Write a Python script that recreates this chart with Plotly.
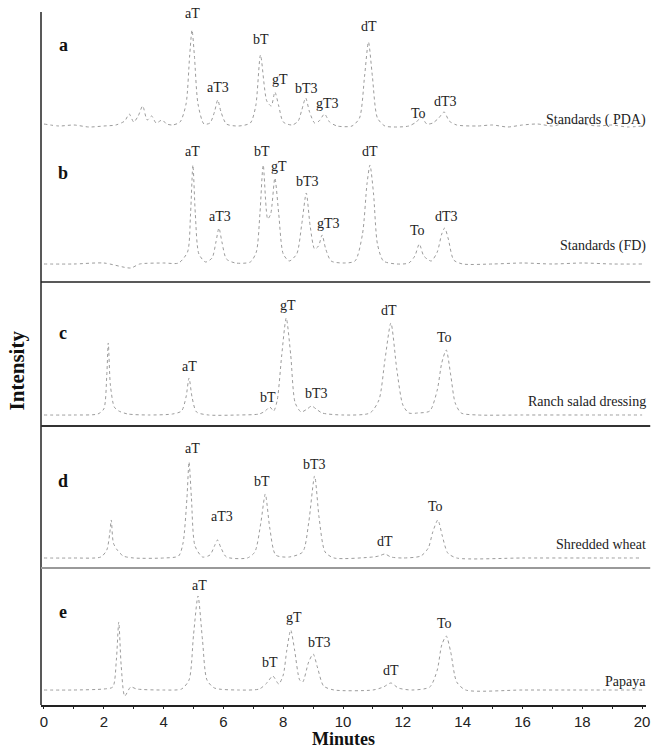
import plotly.graph_objects as go

# ---------------- data ----------------
# retention time (minutes) and detector intensity (arbitrary units, baseline = 0)
a_time = [0.0, 0.5, 1.0, 1.5, 2.0, 2.4, 2.7, 2.85, 3.0, 3.15, 3.3, 3.45, 3.6, 3.75, 3.95, 4.1, 4.3,
          4.55, 4.75, 4.87, 4.95, 5.03, 5.15, 5.35, 5.55, 5.7, 5.81, 5.92, 6.1, 6.5, 6.9, 7.08, 7.24,
          7.45, 7.6, 7.72, 7.85, 8.0, 8.3, 8.5, 8.62, 8.75, 8.88, 9.05, 9.2, 9.38, 9.55, 9.8, 10.3,
          10.55, 10.72, 10.85, 10.98, 11.15, 11.4, 11.8, 12.2, 12.45, 12.62, 12.8, 13.0, 13.2, 13.38,
          13.55, 13.8, 14.5, 15.0, 15.5, 16.0, 16.5, 17.0, 17.5, 18.0, 18.5, 19.0, 19.5, 20.0]
a_int = [2, 0, 1, -1, 0, 1, 5, 12, 4, 10, 20, 6, 10, 3, 6, 2, 1,
         4, 22, 70, 96, 70, 22, 2, 3, 14, 26, 14, 2, 0, 3, 20, 71,
         25, 20, 34, 20, 4, 1, 5, 16, 28, 14, 3, 5, 12, 4, 0, 0,
         8, 50, 84, 50, 8, 0, -1, 0, 4, 9, 2, 3, 8, 14,
         5, 1, 0, 1, -1, 1, 2, 0, 3, 2, 0, 1, -1, 0]

b_time = [0.0, 1.0, 2.0, 2.9, 3.2, 4.0, 4.5, 4.8, 4.9, 4.98, 5.06, 5.18, 5.4, 5.62, 5.75, 5.85, 5.95,
          6.1, 6.4, 6.9, 7.1, 7.22, 7.33, 7.48, 7.58, 7.72, 7.85, 8.0, 8.2, 8.45, 8.62, 8.77, 8.9,
          9.05, 9.18, 9.3, 9.42, 9.6, 10.0, 10.4, 10.65, 10.8, 10.9, 11.02, 11.15, 11.35, 11.8, 12.2,
          12.4, 12.55, 12.7, 12.95, 13.15, 13.3, 13.4, 13.52, 13.7, 14.0, 15.0, 16.0, 17.0, 18.0,
          19.0, 20.0]
b_int = [0, 0, 1, -4, 0, 1, 1, 12, 50, 99, 50, 10, 2, 6, 22, 36, 22,
         5, 1, 2, 12, 50, 99, 45, 50, 86, 50, 10, 3, 10, 40, 71, 38,
         15, 18, 29, 15, 3, 1, 3, 30, 80, 99, 70, 20, 3, 0, 1,
         8, 20, 8, 3, 12, 30, 36, 25, 4, 0, 0, 1, 0, 1,
         0, 0]

c_time = [0.0, 1.0, 1.8, 2.0, 2.1, 2.15, 2.22, 2.35, 2.5, 2.8, 3.5, 4.3, 4.6, 4.75, 4.85, 4.95, 5.1,
          5.5, 6.5, 7.2, 7.4, 7.55, 7.68, 7.8, 7.95, 8.1, 8.25, 8.4, 8.6, 8.8, 8.95, 9.1, 9.3, 10.0,
          10.9, 11.2, 11.4, 11.6, 11.8, 12.0, 12.2, 12.5, 12.9, 13.15, 13.3, 13.45, 13.6, 13.75,
          13.95, 14.5, 16.0, 18.0, 20.0]
c_int = [0, 0, 1, 6, 40, 72, 30, 8, 4, 1, 0, 1, 4, 18, 37, 18, 3,
         0, 0, 1, 4, 8, 4, 15, 60, 97, 60, 12, 3, 6, 9, 6, 2, 0,
         2, 15, 55, 92, 45, 10, 2, 2, 4, 25, 52, 65, 40, 12,
         2, 0, 0, 0, 0]

d_time = [0.0, 1.0, 1.9, 2.1, 2.2, 2.25, 2.32, 2.45, 2.65, 3.0, 4.0, 4.5, 4.65, 4.78, 4.85, 4.93,
          5.05, 5.3, 5.55, 5.7, 5.8, 5.92, 6.1, 6.8, 7.05, 7.25, 7.4, 7.55, 7.75, 8.2, 8.65, 8.85,
          9.05, 9.2, 9.4, 9.7, 11.0, 11.2, 11.4, 11.6, 12.0, 12.6, 12.85, 13.0, 13.17, 13.32, 13.5,
          13.8, 16.0, 18.0, 20.0]
d_int = [0, 0, 1, 8, 25, 38, 15, 8, 2, 0, 0, 2, 15, 60, 96, 60,
         12, 1, 3, 12, 18, 10, 1, 0, 6, 35, 64, 30, 3, 1, 6, 35,
         82, 40, 6, 0, 1, 2, 4, 1, 0, 2, 10, 26, 38, 22, 5,
         0, 0, 0, 0]

e_time = [0.0, 1.0, 2.0, 2.3, 2.42, 2.5, 2.58, 2.7, 2.9, 3.1, 4.0, 4.6, 4.85, 5.0, 5.15, 5.3, 5.45,
          5.7, 6.5, 7.2, 7.45, 7.65, 7.85, 8.0, 8.12, 8.25, 8.38, 8.55, 8.65, 8.85, 9.0, 9.15, 9.35,
          9.7, 11.0, 11.35, 11.6, 11.85, 12.3, 12.9, 13.15, 13.3, 13.45, 13.6, 13.8, 14.1, 16.0,
          18.0, 20.0]
e_int = [0, 0, 1, 3, 30, 68, 25, -6, 3, 1, 0, 1, 10, 55, 94, 50, 10,
         2, 0, 1, 7, 14, 6, 15, 40, 60, 40, 10, 8, 28, 36, 22, 4,
         0, 0, 3, 7, 2, 0, 3, 20, 45, 54, 38, 8, 0, 0,
         0, 0]

# peak labels: name, time of label, height of label
a_lab = ["aT", "aT3", "bT", "gT", "bT3", "gT3", "dT", "To", "dT3"]
a_lab_t = [4.95, 5.81, 7.24, 7.9, 8.77, 9.47, 10.86, 12.52, 13.42]
a_lab_y = [113, 39, 87, 47, 38, 23, 100, 13, 25]

b_lab = ["aT", "aT3", "bT", "gT", "bT3", "gT3", "dT", "To", "dT3"]
b_lab_t = [4.95, 5.88, 7.28, 7.85, 8.8, 9.5, 10.9, 12.48, 13.45]
b_lab_y = [112, 47, 112, 97, 82, 40, 112, 33, 47]

c_lab = ["aT", "bT", "gT", "bT3", "dT", "To"]
c_lab_t = [4.85, 7.5, 8.15, 9.1, 11.55, 13.4]
c_lab_y = [48, 17, 109, 21, 104, 77]

d_lab = ["aT", "aT3", "bT", "bT3", "dT", "To"]
d_lab_t = [4.95, 5.95, 7.3, 9.05, 11.4, 13.1]
d_lab_y = [109, 41, 76, 93, 16, 51]

e_lab = ["aT", "bT", "gT", "bT3", "dT", "To"]
e_lab_t = [5.2, 7.55, 8.35, 9.2, 11.6, 13.4]
e_lab_y = [104, 27, 72, 47, 19, 66]

panel_letters = ["a", "b", "c", "d", "e"]
sample_names = ["Standards ( PDA)", "Standards (FD)", "Ranch salad dressing", "Shredded wheat", "Papaya"]

x_ticks = [0, 2, 4, 6, 8, 10, 12, 14, 16, 18, 20]

# ---------------- figure ----------------
panels = [
    (a_time, a_int, a_lab, a_lab_t, a_lab_y),
    (b_time, b_int, b_lab, b_lab_t, b_lab_y),
    (c_time, c_int, c_lab, c_lab_t, c_lab_y),
    (d_time, d_int, d_lab, d_lab_t, d_lab_y),
    (e_time, e_int, e_lab, e_lab_t, e_lab_y),
]
domains = [[0.8153, 1.0], [0.6104, 0.8153], [0.4026, 0.6104], [0.1977, 0.4026], [0.0, 0.1977]]
ranges = [[-14, 114], [-18, 124], [-11, 133], [-10, 132], [-15, 122]]
letter_y = [81, 91, 82, 77, 78]
name_y = [6, 18, 13, 13, 9]

SERIF = "Liberation Serif, Times New Roman, serif"

fig = go.Figure()
annotations = []
layout_axes = {}
for i, (t, v, labs, lt, ly) in enumerate(panels):
    yname = "y" if i == 0 else f"y{i+1}"
    ykey = "yaxis" if i == 0 else f"yaxis{i+1}"
    fig.add_trace(go.Scatter(
        x=t, y=v, xaxis="x", yaxis=yname, mode="lines",
        line=dict(color="#9c9c9c", width=1, shape="spline", smoothing=0.7, dash="dot"),
        hoverinfo="skip", showlegend=False))
    layout_axes[ykey] = dict(domain=domains[i], range=ranges[i], visible=False,
                             fixedrange=True)
    for name, tx, ty in zip(labs, lt, ly):
        annotations.append(dict(x=tx, y=ty, xref="x", yref=yname, text=name,
                                showarrow=False, font=dict(family=SERIF, size=14, color="#222"),
                                xanchor="center", yanchor="middle"))
    annotations.append(dict(x=0.65, y=letter_y[i], xref="x", yref=yname, text=f"<b>{panel_letters[i]}</b>",
                            showarrow=False, font=dict(family=SERIF, size=18, color="#111"),
                            xanchor="center", yanchor="middle"))
    annotations.append(dict(x=1.004, y=name_y[i], xref="paper", yref=yname, text=sample_names[i],
                            showarrow=False, font=dict(family=SERIF, size=14, color="#222"),
                            xanchor="right", yanchor="middle"))

annotations.append(dict(x=-0.0394, y=0.483, xref="paper", yref="paper", text="<b>Intensity</b>",
                        textangle=-90, showarrow=False, xanchor="center", yanchor="middle",
                        font=dict(family=SERIF, size=21, color="#111")))
annotations.append(dict(x=0.5, y=-0.0485, xref="paper", yref="paper", text="<b>Minutes</b>",
                        showarrow=False, font=dict(family=SERIF, size=18, color="#111"),
                        yanchor="middle"))

shapes = [
    dict(type="line", xref="paper", yref="paper", x0=0, x1=0, y0=0, y1=1.0,
         line=dict(color="#222", width=1.5)),
    dict(type="line", xref="paper", yref="paper", x0=0, x1=1.007, y0=0.6104, y1=0.6104,
         line=dict(color="#222", width=1.5)),
    dict(type="line", xref="paper", yref="paper", x0=0, x1=1.007, y0=0.4026, y1=0.4026,
         line=dict(color="#333", width=2)),
    dict(type="line", xref="paper", yref="paper", x0=0, x1=1.007, y0=0.1977, y1=0.1977,
         line=dict(color="#999", width=2)),
]

fig.update_layout(
    width=654, height=749,
    margin=dict(l=41, r=4, t=12, b=44),
    paper_bgcolor="white", plot_bgcolor="white",
    xaxis=dict(range=[-0.1, 20.13], anchor="y5", tickvals=x_ticks, ticktext=[str(v) for v in x_ticks],
               showline=True, linecolor="#222", linewidth=1.5, ticks="outside", ticklen=2,
               tickcolor="#222", showgrid=False, zeroline=False, ticklabeloverflow="allow",
               minor=dict(tickvals=[1, 3, 5, 7, 9, 11, 13, 15, 17, 19], ticks="outside", ticklen=2,
                          tickcolor="#222"),
               tickfont=dict(family="Liberation Sans, Arial, sans-serif", size=15, color="#222"),
               fixedrange=True),
    annotations=annotations,
    shapes=shapes,
    **layout_axes,
)

fig.write_html("out.html", config={"displayModeBar": False},
               post_script="document.body.style.margin='0';document.body.style.overflow='hidden';")
